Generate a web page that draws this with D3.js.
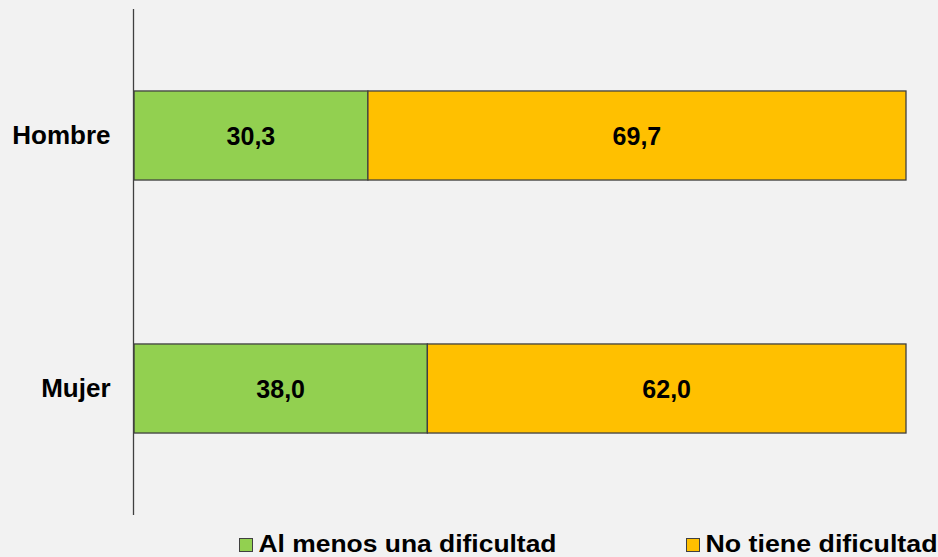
<!DOCTYPE html>
<html>
<head>
<meta charset="utf-8">
<script src="https://cdn.jsdelivr.net/npm/d3@7"></script>
<style>
  html, body { margin: 0; padding: 0; background: #f2f2f2; overflow: hidden; }
  svg { display: block; font-family: "Liberation Sans", Arial, sans-serif; }
</style>
</head>
<body>
<div class="graphic"></div>
<script>
var categories = ["Hombre", "Mujer"];
var seriesNames = ["Al menos una dificultad", "No tiene dificultad"];
var alMenos = [30.3, 38.0];
var noTiene = [69.7, 62.0];
var colorRange = ["#92d050", "#ffc000"];

var width = 938, height = 557;

var svg = d3.select(".graphic").append("svg")
  .attr("width", width)
  .attr("height", height);

svg.append("rect").attr("width", width).attr("height", height).attr("fill", "#f2f2f2");

var x = d3.scaleLinear().domain([0, 100]).range([134, 906]);
var y = d3.scaleBand().domain(categories).range([9, 515])
  .paddingInner(0.648).paddingOuter(0.324);

var rows = categories.map(function(c, i) {
  return { cat: c, values: [alMenos[i], noTiene[i]] };
});

var stackData = [];
rows.forEach(function(r) {
  var x0 = 0;
  r.values.forEach(function(v, j) {
    stackData.push({ cat: r.cat, x0: x0, x1: x0 + v, v: v, s: j });
    x0 += v;
  });
});

svg.append("g").selectAll("rect")
  .data(stackData)
  .enter()
  .append("rect")
  .attr("x", function(d) { return x(d.x0); })
  .attr("y", function(d) { return y(d.cat); })
  .attr("width", function(d) { return x(d.x1) - x(d.x0); })
  .attr("height", y.bandwidth())
  .attr("fill", function(d) { return colorRange[d.s]; })
  .attr("stroke", "#404040")
  .attr("stroke-width", 1.3);

svg.append("g").selectAll("text")
  .data(stackData)
  .enter()
  .append("text")
  .attr("x", function(d) { return (x(d.x0) + x(d.x1)) / 2; })
  .attr("y", function(d) { return y(d.cat) + y.bandwidth() / 2; })
  .attr("dy", "0.36em")
  .attr("text-anchor", "middle")
  .attr("font-size", "25px")
  .attr("font-weight", "bold")
  .attr("fill", "#000")
  .text(function(d) { return d.v.toFixed(1).replace(".", ","); });

// y axis
var yAxis = svg.append("g")
  .attr("transform", "translate(133.5,0)")
  .call(d3.axisLeft(y).tickSize(0).tickPadding(23));
yAxis.select(".domain").attr("stroke", "#404040").attr("stroke-width", 1.3)
  .attr("d", "M0,9V515");
yAxis.selectAll(".tick text")
  .attr("font-size", "26px")
  .attr("font-weight", "bold")
  .attr("font-family", "Liberation Sans, Arial, sans-serif")
  .attr("fill", "#000");

// legend
var legendX = [239, 686];
var legendLen = [298, 232];
var legend = svg.append("g").selectAll("g")
  .data(seriesNames)
  .enter()
  .append("g")
  .attr("transform", function(d, i) { return "translate(" + legendX[i] + ",538)"; });

legend.append("rect")
  .attr("x", 0.5).attr("y", 0.5)
  .attr("width", 13).attr("height", 13)
  .attr("fill", function(d, i) { return colorRange[i]; })
  .attr("stroke", "#404040")
  .attr("stroke-width", 1);

legend.append("text")
  .attr("x", 19.5)
  .attr("y", 14)
  .attr("font-size", "23px")
  .attr("font-weight", "bold")
  .attr("fill", "#000")
  .attr("textLength", function(d, i) { return legendLen[i]; })
  .attr("lengthAdjust", "spacingAndGlyphs")
  .text(function(d) { return d; });
</script>
</body>
</html>
